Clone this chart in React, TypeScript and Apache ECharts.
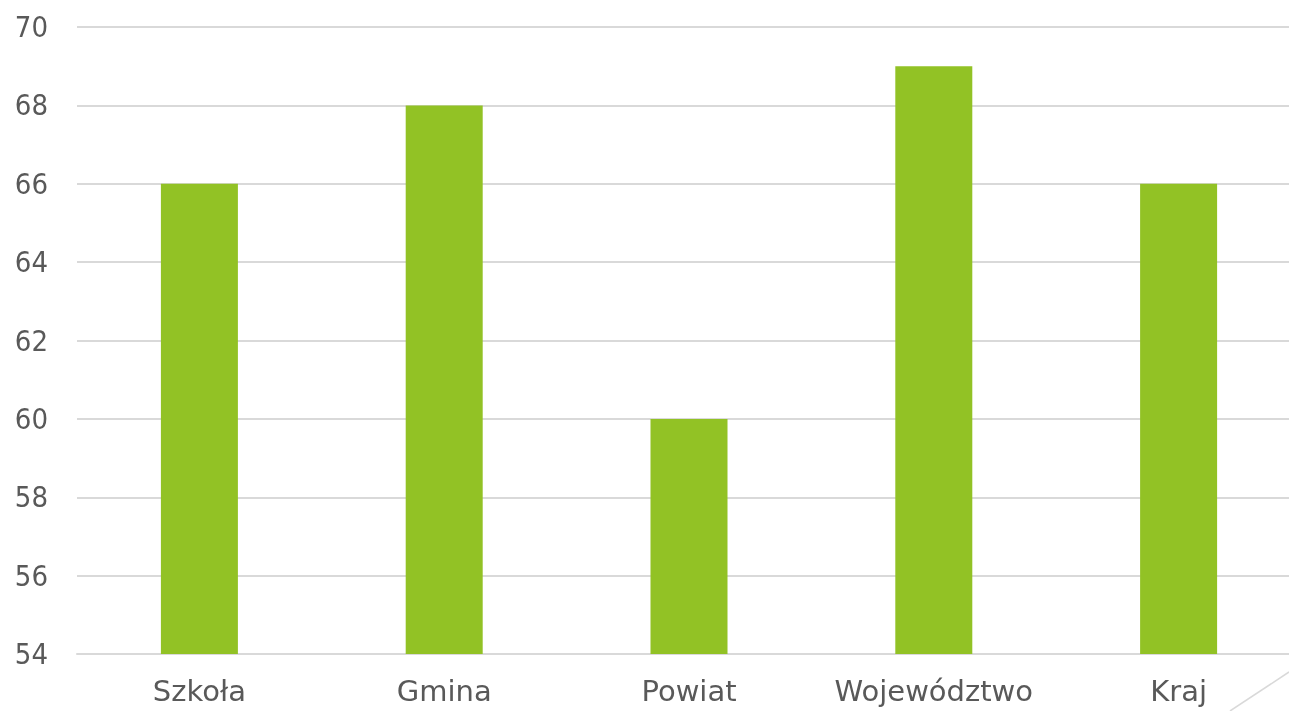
import React, { useEffect, useRef } from "react";
import * as echarts from "echarts";

const categories = ["Szkoła", "Gmina", "Powiat", "Województwo", "Kraj"];
const values = [66, 68, 60, 69, 66];
const yMin = 54;
const yMax = 70;
const yInterval = 2;

export default function App() {
  const ref = useRef<HTMLDivElement>(null);
  useEffect(() => {
    if (!ref.current) return;
    const chart = echarts.init(ref.current, undefined, { renderer: "svg" });
    chart.setOption({
      animation: false,
      grid: { left: 77, right: 0, top: 27, bottom: 57, containLabel: false },
      xAxis: {
        type: "category",
        data: categories,
        axisLine: { show: true, lineStyle: { color: "#d9d9d9", width: 2 } },
        axisTick: { show: false },
        axisLabel: {
          interval: 0,
          color: "#595959",
          fontSize: 29,
          fontFamily: "DejaVu Sans",
          margin: 22,
        },
      },
      yAxis: {
        type: "value",
        min: yMin,
        max: yMax,
        interval: yInterval,
        axisLine: { show: false },
        axisTick: { show: false },
        splitLine: { lineStyle: { color: "#d9d9d9", width: 2 } },
        axisLabel: {
          color: "#595959",
          fontSize: 29,
          fontFamily: "DejaVu Sans Condensed",
          margin: 29,
        },
      },
      series: [
        {
          type: "bar",
          data: values,
          barWidth: 77,
          itemStyle: { color: "#92c225" },
        },
      ],
      graphic: [
        {
          type: "line",
          shape: { x1: 1230, y1: 711, x2: 1289, y2: 672 },
          style: { stroke: "#d9d9d9", lineWidth: 1.5 },
        },
      ],
    });
    return () => chart.dispose();
  }, []);
  return (
    <div style={{ width: 1289, height: 711, position: "fixed", left: 0, top: 0, overflow: "hidden" }}>
      <div ref={ref} style={{ width: 1301, height: 711 }} />
    </div>
  );
}
